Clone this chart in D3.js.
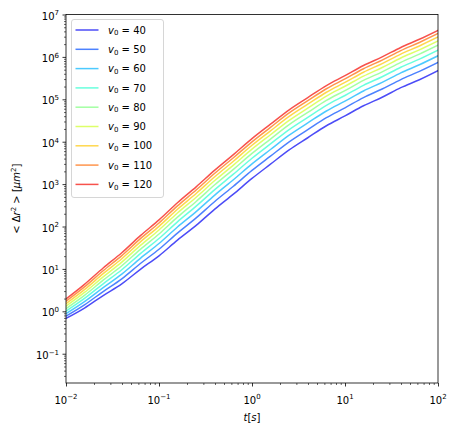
<!DOCTYPE html>
<html><head><meta charset="utf-8">
<script src="https://cdn.jsdelivr.net/npm/d3@7"></script>
<style>body{margin:0;background:#fff} text{font-family:"DejaVu Sans",sans-serif;fill:#000}</style>
</head><body><svg id="c" width="456" height="434"></svg>
<script>
// ---- data ----
const times = [0.01, 0.0158, 0.0251, 0.0398, 0.0631, 0.1, 0.158, 0.251, 0.398, 0.631, 1, 1.58, 2.51, 3.98, 6.31, 10, 15.8, 25.1, 39.8, 63.1, 100];
const speeds = [40, 50, 60, 70, 80, 90, 100, 110, 120];
const msd40  = [0.68, 1.19, 2.36, 4.45, 9.8, 20.4, 47.9, 106, 257, 580, 1360, 2950, 6400, 12400, 23800, 40500, 70500, 112000, 188000, 290000, 475000];
const msd50  = [0.77, 1.42, 2.93, 5.85, 13.4, 29.1, 70.1, 160, 390, 890, 2100, 4560, 9950, 19300, 36900, 63000, 109500, 175000, 292000, 455000, 740000];
const msd60  = [0.88, 1.69, 3.63, 7.55, 17.8, 39.7, 97.2, 225, 551, 1268, 3000, 6540, 14260, 27700, 53000, 90500, 157200, 251000, 419000, 654000, 1062000];
const msd70  = [1.01, 2.01, 4.46, 9.55, 23.0, 52.2, 129, 302, 742, 1715, 4065, 8870, 19370, 37600, 72000, 123000, 213500, 341000, 569000, 889000, 1444000];
const msd80  = [1.16, 2.38, 5.42, 11.85, 29.0, 66.6, 166, 390, 963, 2230, 5290, 11560, 25250, 49000, 94000, 160500, 278500, 445000, 743000, 1161000, 1884000];
const msd90  = [1.33, 2.79, 6.5, 14.45, 35.8, 82.9, 208, 490, 1213, 2813, 6680, 14610, 31900, 62000, 118800, 203000, 352000, 563000, 940000, 1468000, 2383000];
const msd100 = [1.52, 3.25, 7.72, 17.4, 43.4, 101, 255, 602, 1492, 3465, 8235, 18020, 39380, 76500, 146600, 250500, 434800, 695000, 1160000, 1812000, 2941000];
const msd110 = [1.73, 3.77, 9.06, 20.6, 51.8, 121, 307, 726, 1801, 4186, 9950, 21790, 47620, 92500, 177300, 303000, 525900, 840600, 1403000, 2192000, 3557000];
const msd120 = [1.96, 4.33, 10.5, 24.1, 61.0, 143, 364, 861, 2140, 4975, 11830, 25910, 56650, 110000, 211000, 360500, 625700, 1000000, 1670000, 2608000, 4232000];
const seriesValues = [msd40, msd50, msd60, msd70, msd80, msd90, msd100, msd110, msd120];
const xTickExps = [-2, -1, 0, 1, 2];
const yTickExps = [-1, 0, 1, 2, 3, 4, 5, 6, 7];
const colors = ["#0000f4", "#004dff", "#00b3ff", "#29ffce", "#7bff7b", "#ceff29", "#ffc600", "#ff6800", "#f40900"];

// ---- layout ----
const L = 66, R = 438, T = 14.5, B = 383;
const svg = d3.select("#c");
const x = d3.scaleLog().domain([0.01, 100]).range([L, R]);
const y = d3.scaleLog().domain([0.0204, 1e7]).range([B, T]);

function minorTicks(lo, hi) {
  const out = [];
  for (let e = lo; e < hi; e++) for (let m = 2; m <= 9; m++) out.push(m * Math.pow(10, e));
  return out;
}
const xMinor = minorTicks(-2, 2).filter(v => v > 0.01 && v < 100);
const yMinor = minorTicks(-2, 7).filter(v => v > 0.0204 && v < 1e7);

// lines
const clipId = "clp";
svg.append("defs").append("clipPath").attr("id", clipId).append("rect")
  .attr("x", L).attr("y", T).attr("width", R - L).attr("height", B - T);
const line = d3.line().x((d, i) => x(times[i])).y(d => y(d)).curve(d3.curveMonotoneX);
const g = svg.append("g").attr("clip-path", `url(#${clipId})`);
seriesValues.forEach((vals, k) => {
  g.append("path").attr("d", line(vals)).attr("fill", "none")
    .attr("stroke", colors[k]).attr("stroke-opacity", 0.7).attr("stroke-width", 1.5)
    .attr("stroke-linejoin", "round").attr("stroke-linecap", "square");
});

// axes ticks
function styleAxis(sel) { sel.select(".domain").remove(); sel.selectAll("line").attr("stroke", "#000").attr("stroke-width", 0.8); }
svg.append("g").attr("transform", `translate(0,${B})`)
  .call(d3.axisBottom(x).tickValues(xTickExps.map(e => Math.pow(10, e))).tickSize(3.5).tickFormat(""))
  .call(styleAxis);
svg.append("g").attr("transform", `translate(0,${B})`)
  .call(d3.axisBottom(x).tickValues(xMinor).tickSize(2).tickFormat(""))
  .call(styleAxis).selectAll("line").attr("stroke-width", 0.6);
svg.append("g").attr("transform", `translate(${L},0)`)
  .call(d3.axisLeft(y).tickValues(yTickExps.map(e => Math.pow(10, e))).tickSize(3.5).tickFormat(""))
  .call(styleAxis);
svg.append("g").attr("transform", `translate(${L},0)`)
  .call(d3.axisLeft(y).tickValues(yMinor).tickSize(2).tickFormat(""))
  .call(styleAxis).selectAll("line").attr("stroke-width", 0.6);

// frame
svg.append("rect").attr("x", L).attr("y", T).attr("width", R - L).attr("height", B - T)
  .attr("fill", "none").attr("stroke", "#000").attr("stroke-width", 0.8);

function powLabel(sel, e) {
  sel.append("tspan").text("10");
  sel.append("tspan").attr("font-size", 7).attr("dy", -4.2).text(e < 0 ? "\u2212" + (-e) : String(e));
}
xTickExps.forEach(e => {
  const t = svg.append("text").attr("x", x(Math.pow(10, e))).attr("y", 403.5)
    .attr("text-anchor", "middle").attr("font-size", 10);
  powLabel(t, e);
});
yTickExps.forEach(e => {
  const t = svg.append("text").attr("x", 59).attr("y", y(Math.pow(10, e)) + 5)
    .attr("text-anchor", "end").attr("font-size", 10);
  powLabel(t, e);
});

// axis labels
const xl = svg.append("text").attr("x", (L + R) / 2).attr("y", 421).attr("text-anchor", "middle").attr("font-size", 10);
xl.append("tspan").attr("font-style", "italic").text("t");
xl.append("tspan").text("[");
xl.append("tspan").attr("font-style", "italic").text("s");
xl.append("tspan").text("]");

const yl = svg.append("text").attr("transform", `translate(20,${(T + B) / 2}) rotate(-90)`)
  .attr("text-anchor", "middle").attr("font-size", 10);
yl.append("tspan").text("< \u0394");
yl.append("tspan").attr("font-style", "italic").text("r");
yl.append("tspan").attr("font-size", 7).attr("dy", -4).text("2");
yl.append("tspan").attr("dy", 4).text(" > [");
yl.append("tspan").attr("font-style", "italic").text("\u03bcm");
yl.append("tspan").attr("font-size", 7).attr("dy", -4).text("2");
yl.append("tspan").attr("dy", 4).text("]");

// legend
const lg = svg.append("g");
lg.append("rect").attr("x", 71.5).attr("y", 19.5).attr("width", 92).attr("height", 178).attr("rx", 2.5)
  .attr("fill", "#fff").attr("fill-opacity", 0.8).attr("stroke", "#cccccc").attr("stroke-width", 0.8);
speeds.forEach((v, k) => {
  const ry = 30 + k * 19.3;
  lg.append("line").attr("x1", 75.5).attr("x2", 98.5).attr("y1", ry).attr("y2", ry)
    .attr("stroke", colors[k]).attr("stroke-opacity", 0.7).attr("stroke-width", 1.5);
  const t = lg.append("text").attr("x", 108).attr("y", ry + 3.6).attr("font-size", 10);
  t.append("tspan").attr("font-style", "italic").text("v");
  t.append("tspan").attr("font-size", 7).attr("dy", 1.6).text("0");
  t.append("tspan").attr("dy", -1.6).text(" = " + v);
});
</script></body></html>
